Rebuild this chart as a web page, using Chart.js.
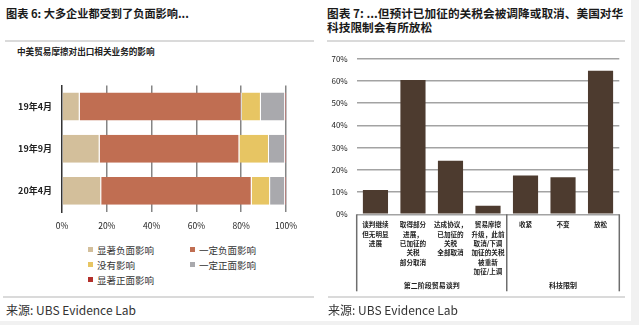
<!DOCTYPE html>
<html>
<head>
<meta charset="utf-8">
<script src="https://cdn.jsdelivr.net/npm/chart.js@4"></script>
<style>
  html, body { margin: 0; padding: 0; }
  body { width: 639px; height: 325px; background: #f1f1f1; position: relative; overflow: hidden;
         font-family: "Noto Sans CJK SC", "Noto Sans", sans-serif; color: #222; }
  #page { position: absolute; left: 0; top: 0; width: 631px; height: 321px; background: #fff; }
  .abs { position: absolute; white-space: nowrap; }
  .title { font-weight: bold; font-size: 11.7px; line-height: 14px; color: #1a1a1a; }
  .rule { position: absolute; height: 2px; background: #dadada; }
  .src { font-size: 12px; line-height: 16px; color: #333; }
  #legend-left { position: absolute; left: 88px; top: 242px; display: grid;
                 grid-template-columns: 102px 102px; grid-auto-rows: 15px; font-size: 9.5px; color: #333; }
  #legend-left .item { display: flex; align-items: center; }
  #legend-left .box { width: 5px; height: 5px; margin-right: 4px; }
</style>
</head>
<body>
<div id="page">
  <div class="abs title" style="left:6px;top:5px;font-size:11.2px;line-height:16px;">图表 6: 大多企业都受到了负面影响...</div>
  <div class="abs title" style="left:327px;top:6px;">图表 7: ...但预计已加征的关税会被调降或取消、美国对华<br>科技限制会有所放松</div>
  <div class="rule" style="left:5px;top:40px;width:309px;"></div>
  <div class="rule" style="left:327px;top:40px;width:298px;"></div>
  <div class="abs" style="left:17px;top:45px;font-size:8.6px;line-height:12px;font-weight:bold;color:#222;">中美贸易摩擦对出口相关业务的影响</div>

  <canvas id="chart-left" class="abs" style="left:0;top:70px;" width="315" height="170"></canvas>
  <div id="legend-left"></div>
  <canvas id="chart-right" class="abs" style="left:320px;top:45px;" width="312" height="255"></canvas>

  <div class="rule" style="left:3px;top:296px;width:311px;"></div>
  <div class="rule" style="left:328px;top:296px;width:297px;"></div>
  <div class="abs src" style="left:6px;top:302px;">来源: UBS Evidence Lab</div>
  <div class="abs src" style="left:328px;top:302px;">来源: UBS Evidence Lab</div>
</div>

<script>
// ---- left chart data: share of respondents (%)
const periods = ['19年4月', '19年9月', '20年4月'];
const impactLabels = ['显著负面影响', '一定负面影响', '没有影响', '一定正面影响', '显著正面影响'];
const impactColors = ['#d3bf9b', '#c06e52', '#e7c563', '#a9a9ad', '#b3302b'];
const sigNegative = [7.9, 16.8, 17.5];
const someNegative = [72.3, 62.4, 67.2];
const noImpact = [8.6, 13.2, 8.2];
const somePositive = [10.8, 7.2, 6.7];
const sigPositive = [0.4, 0.4, 0.4];
const impactSeries = [sigNegative, someNegative, noImpact, somePositive, sigPositive];
const pctTicks = [0, 20, 40, 60, 80, 100];

// ---- right chart data
const outcomeLabels = [
  ['谈判继续', '但无明显', '进展'],
  ['取得部分', '进展，', '已加征的', '关税', '部分取消'],
  ['达成协议，', '已加征的', '关税', '全部取消'],
  ['贸易摩擦', '升级，此前', '取消/下调', '加征的关税', '被重新', '加征/上调'],
  '收紧', '不变', '放松'
];
const outcomeValues = [10.9, 60.5, 24.1, 3.9, 17.5, 16.7, 64.6];
const groupNames = ['第二阶段贸易谈判', '科技限制'];
const groupSizes = [4, 3];

Chart.defaults.font.family = '"Noto Sans CJK SC", "Noto Sans", sans-serif';
Chart.defaults.color = '#222';
Chart.defaults.animation = false;

function renderLeft() {
  new Chart(document.getElementById('chart-left'), {
    type: 'bar',
    data: {
      labels: periods,
      datasets: impactSeries.map((vals, i) => ({
        label: impactLabels[i],
        data: vals,
        backgroundColor: impactColors[i],
        borderColor: '#ffffff',
        borderWidth: { left: 0, top: 0, bottom: 0, right: 1 },
        borderSkipped: false,
        barPercentage: 0.66,
        categoryPercentage: 1
      }))
    },
    options: {
      indexAxis: 'y',
      responsive: false,
      layout: { padding: { top: 10, bottom: 8, left: 0, right: 29 } },
      plugins: { legend: { display: false }, tooltip: { enabled: false } },
      scales: {
        x: {
          stacked: true, min: 0, max: 100,
          afterBuildTicks: s => { s.ticks = pctTicks.map(v => ({ value: v })); },
          afterFit: s => { s.height = 20; },
          ticks: { callback: v => v + '%', padding: 9, font: { size: 8.5 }, color: '#222', maxRotation: 0 },
          grid: { drawTicks: false, lineWidth: 1.5, color: c => c.tick && c.tick.value === 0 ? 'rgba(0,0,0,0)' : '#858585' },
          border: { display: false }
        },
        y: {
          stacked: true,
          afterFit: s => { s.width = 62; },
          ticks: { padding: 10, font: { size: 9, weight: 'bold' }, color: '#222' },
          grid: { display: false, drawTicks: false },
          border: { display: true, color: '#333', width: 1.5 }
        }
      }
    }
  });

  const legend = document.getElementById('legend-left');
  legend.innerHTML = impactLabels.map((l, i) =>
    `<div class="item"><span class="box" style="background:${impactColors[i]}"></span><span>${l}</span></div>`
  ).join('');
}

// group brackets under the category axis
const groupAxisPlugin = {
  id: 'groupAxis',
  afterDraw(chart) {
    const x = chart.scales.x;
    const area = chart.chartArea;
    const ctx = chart.ctx;
    const bottom = area.bottom + 77;
    const edges = [x.left];
    let idx = 0;
    groupSizes.forEach((n, g) => {
      idx += n;
      if (g < groupSizes.length - 1) {
        edges.push((x.getPixelForValue(idx - 1) + x.getPixelForValue(idx)) / 2);
      }
    });
    edges.push(x.right);
    ctx.save();
    ctx.strokeStyle = '#6e6e6e';
    ctx.lineWidth = 1.5;
    edges.forEach(px => {
      ctx.beginPath();
      ctx.moveTo(px, area.bottom);
      ctx.lineTo(px, bottom);
      ctx.stroke();
    });
    ctx.fillStyle = '#222';
    ctx.font = 'bold 7px "Noto Sans CJK SC", sans-serif';
    ctx.textAlign = 'center';
    ctx.textBaseline = 'middle';
    groupNames.forEach((name, g) => {
      ctx.fillText(name, (edges[g] + edges[g + 1]) / 2, area.bottom + 71);
    });
    ctx.restore();
  }
};

function renderRight() {
  new Chart(document.getElementById('chart-right'), {
    type: 'bar',
    data: {
      labels: outcomeLabels,
      datasets: [{
        data: outcomeValues,
        backgroundColor: '#4d3b2f',
        borderWidth: 0,
        barPercentage: 0.67,
        categoryPercentage: 1
      }]
    },
    options: {
      responsive: false,
      layout: { padding: { top: 13, bottom: 0, left: 0, right: 12.7 } },
      plugins: { legend: { display: false }, tooltip: { enabled: false } },
      scales: {
        x: {
          afterFit: s => { s.height = 85.7; },
          ticks: { autoSkip: false, maxRotation: 0, minRotation: 0, padding: 6,
                   font: { size: 6.6, weight: 'bold', lineHeight: 1.41 }, color: '#222' },
          grid: { display: false, drawTicks: false },
          border: { display: false }
        },
        y: {
          min: 0, max: 70,
          afterFit: s => { s.width = 36.7; },
          ticks: { stepSize: 10, callback: v => v + '%', padding: 9, font: { size: 8 }, color: '#222' },
          grid: { drawTicks: false, lineWidth: 1.5, color: '#a3a3a3' },
          border: { display: false }
        }
      }
    },
    plugins: [groupAxisPlugin]
  });
}

renderLeft();
renderRight();
</script>
</body>
</html>
